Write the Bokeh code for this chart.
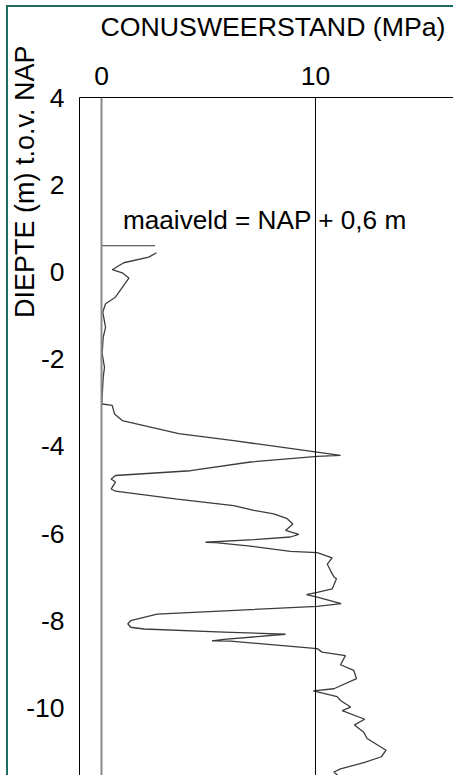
from bokeh.plotting import figure
from bokeh.models import (Range1d, FixedTicker, Span, Label, Title, LinearAxis,
                          CustomJSTickFormatter)
from bokeh.embed import file_html
from bokeh.resources import INLINE

# ---- data (cone resistance in MPa vs depth in m relative to NAP) ----
qc = [2.57, 2.21, 1.04, 0.50, 0.97, 1.28, 1.04, 0.65, 0.19, 0.06, 0.19, 0.08,
      0.03, 0.14, 0.08, 0.02, 0.02, 0.34, 0.50, 0.61, 0.97, 3.61, 6.18, 11.17,
      10.08, 6.96, 4.16, 0.65, 0.45, 0.65, 0.45, 0.65, 3.54, 6.18, 7.12, 8.05,
      8.68, 8.94, 8.60, 9.22, 8.83, 7.12, 4.86, 5.33, 6.96, 8.83, 10.08, 10.78,
      10.55, 10.70, 10.86, 10.98, 10.78, 10.08, 9.58, 10.08, 11.20, 10.08, 2.60,
      1.36, 1.23, 1.36, 1.98, 5.72, 8.60, 5.72, 5.17, 6.03, 10.08, 10.31, 11.40,
      11.17, 11.79, 11.92, 10.86, 9.90, 11.01, 11.17, 11.64, 11.25, 12.30, 11.82,
      12.26, 12.41, 13.30, 13.08, 12.30, 11.17, 10.86, 11.07]
depth = [0.44, 0.34, 0.21, 0.05, -0.02, -0.14, -0.31, -0.58, -0.73, -0.92, -1.27, -1.50,
         -1.87, -2.19, -2.42, -2.95, -3.03, -3.05, -3.06, -3.26, -3.41, -3.71, -3.87, -4.21,
         -4.23, -4.36, -4.56, -4.67, -4.75, -4.82, -4.98, -5.03, -5.21, -5.36, -5.47, -5.55,
         -5.66, -5.78, -5.93, -6.02, -6.08, -6.14, -6.20, -6.21, -6.29, -6.41, -6.44, -6.56,
         -6.70, -6.85, -6.99, -7.04, -7.27, -7.35, -7.40, -7.46, -7.61, -7.67, -7.85,
         -8.00, -8.07, -8.15, -8.19, -8.26, -8.31, -8.43, -8.46, -8.47, -8.64, -8.72, -8.80,
         -9.01, -9.14, -9.33, -9.56, -9.61, -9.74, -9.83, -9.98, -10.06, -10.26, -10.39,
         -10.56, -10.70, -10.97, -11.12, -11.25, -11.40, -11.47, -11.56]

maaiveld_level = 0.6
maaiveld_x = [0, 2.5]
x_ticks = [0, 10]
y_ticks = [4, 2, 0, -2, -4, -6, -8, -10]

title_text = "CONUSWEERSTAND (MPa)"
ylabel_text = "DIEPTE (m) t.o.v. NAP"
note_text = "maaiveld = NAP + 0,6 m"

FONT = "Liberation Sans"
FS = "26.5px"

p = figure(width=453, height=775,
           x_range=Range1d(-1.028, 16.45), y_range=Range1d(-11.55, 4),
           x_axis_location="above",
           output_backend="svg", toolbar_location=None,
           min_border_left=79, min_border_top=97,
           min_border_right=0, min_border_bottom=0)

p.outline_line_color = None
p.xgrid.visible = False
p.ygrid.visible = False
p.background_fill_color = "white"
p.border_fill_color = None
p.styles = {"box-shadow": "inset 6px 5px 0 0 white, inset 8px 7px 0 0 #1e6b60",
            "background-color": "white"}

for ax in (p.xaxis[0], p.yaxis[0]):
    ax.axis_line_color = "black"
    ax.axis_line_width = 1
    ax.major_tick_line_color = None
    ax.minor_tick_line_color = None
    ax.major_tick_out = 0
    ax.major_tick_in = 0
    ax.major_label_text_font = FONT
    ax.major_label_text_font_size = FS
    ax.major_label_text_color = "black"
    ax.formatter = CustomJSTickFormatter(code="return tick.toString();")
p.xaxis.ticker = FixedTicker(ticks=x_ticks)
p.yaxis.ticker = FixedTicker(ticks=y_ticks)
p.xaxis.major_label_standoff = 13
p.yaxis.major_label_standoff = 15

# empty spacer band between the tick labels and the title (one hidden tick, no label)
spacer = LinearAxis(ticker=FixedTicker(ticks=[0]), axis_line_color=None,
                    major_tick_line_color=None, minor_tick_line_color=None,
                    major_tick_out=22, major_tick_in=0, minor_tick_out=0,
                    major_label_standoff=0, major_label_text_color=None,
                    major_label_overrides={0: ""})
p.add_layout(spacer, "above")

# top title
p.add_layout(Title(text=title_text, align="left", vertical_align="bottom",
                   offset=21, standoff=0, text_font=FONT, text_font_size="26.7px",
                   text_font_style="normal", text_color="black"), "above")

# vertical title at the upper left
p.add_layout(Title(text=ylabel_text, align="right", vertical_align="bottom",
                   offset=-52, standoff=-32, text_font=FONT, text_font_size="27px",
                   text_font_style="normal", text_color="black"), "left")

p.add_layout(Span(location=0, dimension="height", line_color="#8a8a8a", line_width=2))
p.add_layout(Span(location=10, dimension="height", line_color="black", line_width=1))

p.line(maaiveld_x, [maaiveld_level, maaiveld_level], line_color="#333333", line_width=1.2)
p.line(qc, depth, line_color="#3c3c3c", line_width=1.3)

p.add_layout(Label(x=1.0, y=1.2, text=note_text, text_font=FONT, text_font_size="26.2px",
                   text_align="left", text_baseline="alphabetic", text_color="black"))

open("out.html", "w").write(file_html(p, INLINE))
